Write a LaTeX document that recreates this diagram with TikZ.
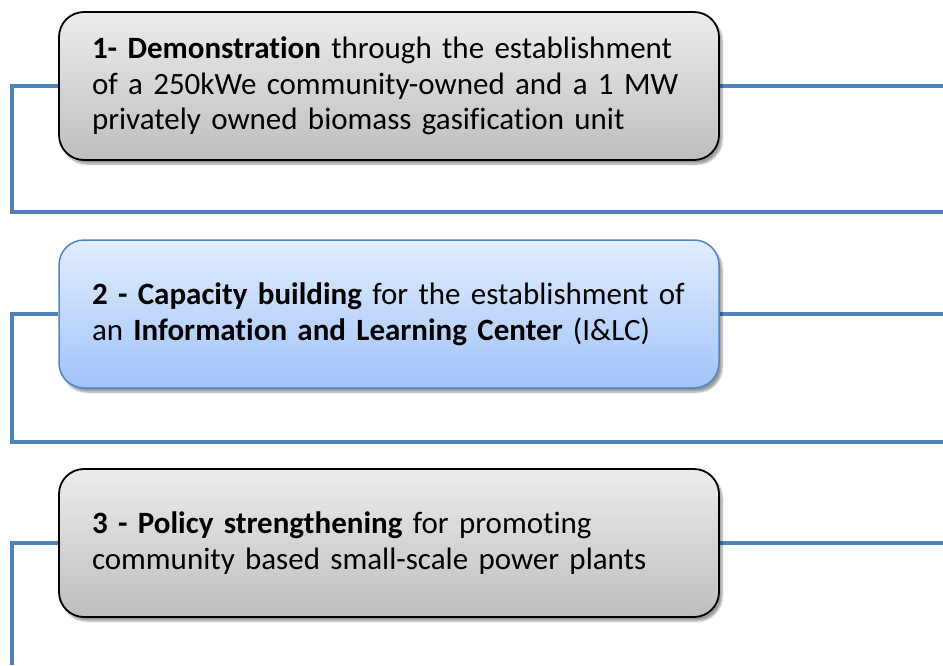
\documentclass[tikz,border=0pt]{standalone}
\usepackage{fontspec}
\setmainfont{Carlito}[Ligatures=NoCommon]
\usetikzlibrary{shadows.blur,backgrounds}
\definecolor{linkblue}{RGB}{79,129,189}
\definecolor{greytop}{RGB}{236,236,236}
\definecolor{greybot}{RGB}{190,190,190}
\definecolor{bluetop}{RGB}{226,237,253}
\definecolor{bluebot}{RGB}{160,195,250}
\definecolor{blueedge}{RGB}{84,130,195}
\begin{document}
\begin{tikzpicture}[x=1pt,y=-1pt,
  stage/.style={rounded corners=25pt, minimum width=660pt, minimum height=148pt,
    text width=594pt, inner xsep=33pt, align=left,
    font=\fontsize{31}{35.5}\selectfont,
    blur shadow={shadow xshift=3pt, shadow yshift=-4pt, shadow blur steps=8, shadow opacity=40}},
  greystage/.style={stage, draw=black, line width=1.8pt, top color=greytop, bottom color=greybot},
  bluestage/.style={stage, draw=blueedge, line width=1.5pt, top color=bluetop, bottom color=bluebot},
  link/.style={draw=linkblue, line width=4pt}]
\useasboundingbox (0,0) rectangle (943,665);

\node[greystage] (b1) at (389,86)
  {\textbf{1- Demonstration} through the establishment\\
   of a 250kWe community-owned and a 1 MW\\
   privately owned biomass gasification unit};
\node[bluestage] (b2) at (389,314)
  {\textbf{2 - Capacity building} for the establishment of\\
   an \textbf{Information and Learning Center} (I\&LC)};
\node[greystage] (b3) at (389,543)
  {\textbf{3 - Policy strengthening} for promoting\\
   community based small-scale power plants};

% bracket corners of the connector lines
\coordinate (l1a) at (12,86);
\coordinate (l1b) at (12,212);
\coordinate (l1c) at (943,212);
\coordinate (r1) at (943,86);
\coordinate (l2a) at (12,314);
\coordinate (l2b) at (12,442);
\coordinate (l2c) at (943,442);
\coordinate (r2) at (943,314);
\coordinate (l3a) at (12,543);
\coordinate (l3b) at (12,665);
\coordinate (r3) at (943,543);

\begin{pgfonlayer}{background}
  \draw[link] (b1.west) -- (l1a) -- (l1b) -- (l1c);
  \draw[link] (b1.east) -- (r1);
  \draw[link] (b2.west) -- (l2a) -- (l2b) -- (l2c);
  \draw[link] (b2.east) -- (r2);
  \draw[link] (b3.west) -- (l3a) -- (l3b);
  \draw[link] (b3.east) -- (r3);
\end{pgfonlayer}
\end{tikzpicture}
\end{document}
